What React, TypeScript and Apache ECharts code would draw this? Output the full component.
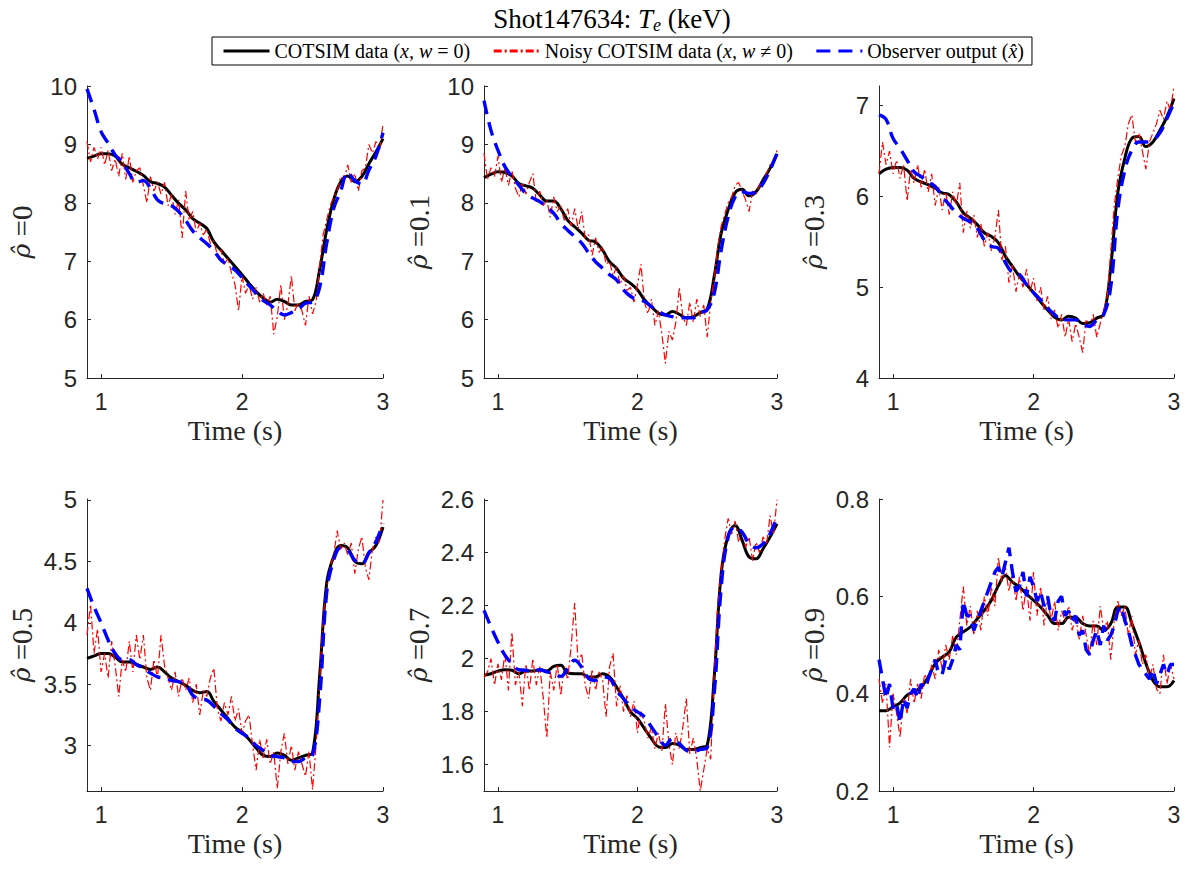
import React, { useEffect, useRef } from "react";
import * as echarts from "echarts";

// ---------- data ----------
const tCoarse = [0.9, 0.95, 1, 1.05, 1.1, 1.15, 1.2, 1.25, 1.3, 1.35, 1.4, 1.45, 1.5, 1.55, 1.6, 1.65, 1.7, 1.75, 1.8, 1.85, 1.9, 1.95, 2, 2.05, 2.1, 2.15, 2.2, 2.25, 2.3, 2.35, 2.4, 2.45, 2.5, 2.55, 2.6, 2.65, 2.7, 2.75, 2.8, 2.85, 2.9, 2.95, 3];
const tFine = [0.9, 0.925, 0.95, 0.975, 1, 1.025, 1.05, 1.075, 1.1, 1.125, 1.15, 1.175, 1.2, 1.225, 1.25, 1.275, 1.3, 1.325, 1.35, 1.375, 1.4, 1.425, 1.45, 1.475, 1.5, 1.525, 1.55, 1.575, 1.6, 1.625, 1.65, 1.675, 1.7, 1.725, 1.75, 1.775, 1.8, 1.825, 1.85, 1.875, 1.9, 1.925, 1.95, 1.975, 2, 2.025, 2.05, 2.075, 2.1, 2.125, 2.15, 2.175, 2.2, 2.225, 2.25, 2.275, 2.3, 2.325, 2.35, 2.375, 2.4, 2.425, 2.45, 2.475, 2.5, 2.525, 2.55, 2.575, 2.6, 2.625, 2.65, 2.675, 2.7, 2.725, 2.75, 2.775, 2.8, 2.825, 2.85, 2.875, 2.9, 2.925, 2.95, 2.975, 3];

const rhoLabels = ["0", "0.1", "0.3", "0.5", "0.7", "0.9"];
const xTicks = [1, 2, 3];
const yMin = [5, 5, 4, 2.63, 1.5, 0.2];
const yMax = [10, 10, 7.217, 5.008, 2.603, 0.8];
const yTicks = [
  [5, 6, 7, 8, 9, 10],
  [5, 6, 7, 8, 9, 10],
  [4, 5, 6, 7],
  [3, 3.5, 4, 4.5, 5],
  [1.6, 1.8, 2, 2.2, 2.4, 2.6],
  [0.2, 0.4, 0.6, 0.8],
];

// COTSIM data (x, w = 0) on tCoarse
const clean0 = [8.76, 8.80, 8.84, 8.84, 8.80, 8.66, 8.60, 8.54, 8.47, 8.36, 8.33, 8.27, 8.13, 7.99, 7.88, 7.73, 7.65, 7.56, 7.33, 7.19, 7.05, 6.91, 6.77, 6.62, 6.48, 6.37, 6.30, 6.35, 6.31, 6.25, 6.25, 6.31, 6.34, 6.85, 7.53, 8.05, 8.36, 8.46, 8.36, 8.45, 8.67, 8.87, 9.10];
const clean1 = [8.43, 8.49, 8.53, 8.52, 8.46, 8.33, 8.29, 8.25, 8.13, 8.03, 8.03, 7.90, 7.70, 7.59, 7.48, 7.36, 7.33, 7.19, 6.99, 6.88, 6.71, 6.62, 6.51, 6.34, 6.22, 6.11, 6.08, 6.14, 6.09, 6.03, 6.05, 6.12, 6.18, 6.74, 7.48, 7.88, 8.17, 8.23, 8.12, 8.19, 8.39, 8.59, 8.84];
const clean2 = [6.25, 6.30, 6.32, 6.32, 6.29, 6.20, 6.16, 6.13, 6.09, 6.04, 6.02, 5.94, 5.82, 5.76, 5.69, 5.60, 5.56, 5.49, 5.34, 5.23, 5.12, 5.03, 4.94, 4.84, 4.75, 4.67, 4.64, 4.68, 4.66, 4.60, 4.61, 4.66, 4.70, 5.23, 6.04, 6.42, 6.64, 6.66, 6.55, 6.60, 6.73, 6.88, 7.08];
const clean3 = [3.71, 3.73, 3.75, 3.75, 3.72, 3.68, 3.68, 3.66, 3.64, 3.62, 3.64, 3.60, 3.55, 3.52, 3.49, 3.45, 3.43, 3.44, 3.36, 3.29, 3.22, 3.15, 3.11, 3.05, 2.98, 2.92, 2.91, 2.94, 2.92, 2.88, 2.90, 2.92, 2.94, 3.56, 4.32, 4.54, 4.63, 4.61, 4.50, 4.48, 4.57, 4.63, 4.78];
const clean4 = [1.937, 1.943, 1.953, 1.958, 1.956, 1.943, 1.953, 1.953, 1.958, 1.953, 1.971, 1.975, 1.946, 1.943, 1.943, 1.931, 1.931, 1.943, 1.931, 1.893, 1.849, 1.799, 1.774, 1.736, 1.698, 1.667, 1.664, 1.679, 1.673, 1.657, 1.657, 1.664, 1.673, 1.931, 2.321, 2.465, 2.503, 2.447, 2.384, 2.377, 2.415, 2.459, 2.509];
const clean5 = [0.365, 0.365, 0.373, 0.381, 0.397, 0.404, 0.414, 0.434, 0.462, 0.475, 0.486, 0.516, 0.527, 0.537, 0.554, 0.571, 0.592, 0.622, 0.643, 0.629, 0.619, 0.605, 0.592, 0.578, 0.561, 0.544, 0.544, 0.557, 0.557, 0.544, 0.539, 0.539, 0.530, 0.544, 0.578, 0.578, 0.544, 0.506, 0.462, 0.427, 0.414, 0.414, 0.427];

// Noisy COTSIM data (x, w != 0) on tFine
const noisy0 = [9.05, 8.70, 8.95, 8.75, 8.95, 8.65, 8.90, 8.55, 8.75, 8.45, 8.85, 8.40, 8.80, 8.35, 8.55, 8.60, 8.30, 8.00, 8.45, 8.20, 8.35, 8.15, 8.35, 7.95, 8.15, 7.80, 8.05, 7.40, 8.20, 7.70, 7.85, 7.50, 7.65, 7.45, 7.55, 7.30, 7.35, 7.10, 7.20, 6.95, 7.05, 6.80, 6.60, 6.15, 6.75, 6.45, 6.60, 6.35, 6.55, 6.30, 6.45, 6.25, 6.40, 5.75, 6.05, 6.60, 6.00, 6.25, 6.75, 6.15, 6.30, 6.15, 5.90, 6.40, 6.10, 6.30, 6.90, 7.45, 7.70, 7.95, 8.10, 8.20, 8.45, 8.40, 8.65, 8.35, 8.50, 8.20, 8.55, 8.60, 9.00, 8.85, 9.05, 8.90, 9.35];
const noisy1 = [8.85, 8.40, 8.60, 8.45, 8.80, 8.35, 8.60, 8.30, 8.55, 8.25, 8.10, 8.35, 8.15, 8.35, 8.50, 8.00, 8.20, 7.95, 8.05, 7.75, 8.10, 7.85, 7.95, 7.70, 7.90, 7.60, 7.90, 7.55, 7.85, 7.40, 7.45, 7.10, 7.40, 7.15, 7.25, 6.95, 7.00, 6.75, 6.90, 6.60, 6.75, 6.50, 6.55, 6.30, 6.60, 6.95, 6.30, 6.10, 6.35, 5.90, 6.15, 5.75, 5.25, 5.80, 5.65, 5.95, 6.55, 6.05, 5.90, 6.30, 5.95, 6.35, 6.05, 6.25, 5.70, 6.30, 6.70, 7.25, 7.60, 7.80, 8.00, 8.10, 8.30, 8.35, 8.20, 8.05, 7.85, 8.20, 8.15, 8.30, 8.35, 8.50, 8.65, 8.70, 8.90];
const noisy2 = [6.25, 6.60, 6.35, 6.50, 6.25, 6.40, 6.20, 6.35, 5.95, 6.30, 6.15, 6.35, 6.10, 6.30, 6.05, 6.25, 5.90, 6.10, 5.85, 6.05, 5.80, 6.05, 5.90, 6.15, 5.60, 5.85, 5.65, 5.80, 5.55, 5.70, 5.45, 5.60, 5.40, 5.55, 5.85, 5.30, 5.45, 5.05, 5.25, 4.95, 5.15, 5.00, 5.20, 4.95, 5.10, 4.85, 5.00, 4.75, 4.90, 4.65, 4.75, 4.55, 4.70, 4.45, 4.65, 4.40, 4.60, 4.45, 4.28, 4.65, 4.55, 4.70, 4.45, 4.60, 4.75, 4.90, 5.40, 5.90, 6.20, 6.45, 6.55, 6.80, 6.90, 6.60, 6.70, 6.50, 6.30, 6.60, 6.70, 6.80, 6.95, 6.85, 7.05, 6.95, 7.22];
const noisy3 = [3.90, 4.15, 3.75, 3.95, 3.60, 3.75, 3.55, 3.85, 3.65, 3.40, 3.70, 3.60, 3.85, 3.60, 3.90, 3.70, 3.90, 3.55, 3.45, 3.70, 3.55, 3.90, 3.65, 3.55, 3.45, 3.60, 3.40, 3.55, 3.45, 3.55, 3.35, 3.50, 3.25, 3.45, 3.40, 3.55, 3.63, 3.30, 3.20, 3.35, 3.25, 3.40, 3.20, 3.30, 3.10, 3.20, 3.25, 3.00, 2.80, 3.05, 2.90, 3.05, 2.85, 2.95, 2.65, 2.95, 3.10, 2.85, 3.00, 2.80, 2.95, 2.85, 2.75, 2.95, 2.64, 3.00, 3.50, 4.05, 4.30, 4.45, 4.55, 4.75, 4.60, 4.65, 4.55, 4.65, 4.40, 4.60, 4.70, 4.45, 4.35, 4.60, 4.70, 4.65, 5.00];
const noisy4 = [1.93, 1.95, 2.00, 1.90, 1.98, 1.92, 2.02, 1.88, 2.10, 1.90, 1.95, 1.82, 1.98, 1.88, 2.00, 1.90, 1.97, 1.85, 1.70, 1.95, 1.88, 1.98, 1.86, 1.97, 1.92, 2.05, 2.21, 1.98, 2.02, 1.90, 1.85, 1.96, 1.88, 1.95, 1.92, 1.78, 1.97, 2.02, 1.82, 1.90, 1.80, 1.86, 1.78, 1.84, 1.72, 1.80, 1.76, 1.70, 1.74, 1.66, 1.72, 1.65, 1.83, 1.68, 1.60, 1.72, 1.66, 1.74, 1.85, 1.64, 1.70, 1.62, 1.50, 1.58, 1.66, 1.62, 1.95, 2.20, 2.33, 2.45, 2.53, 2.47, 2.52, 2.44, 2.48, 2.42, 2.46, 2.37, 2.44, 2.40, 2.46, 2.43, 2.54, 2.47, 2.60];
const noisy5 = [0.43, 0.38, 0.42, 0.29, 0.40, 0.36, 0.31, 0.39, 0.36, 0.43, 0.38, 0.42, 0.39, 0.44, 0.42, 0.46, 0.43, 0.49, 0.45, 0.50, 0.47, 0.52, 0.48, 0.55, 0.62, 0.54, 0.58, 0.52, 0.57, 0.53, 0.60, 0.56, 0.62, 0.58, 0.68, 0.63, 0.66, 0.61, 0.65, 0.59, 0.64, 0.57, 0.62, 0.55, 0.65, 0.56, 0.62, 0.54, 0.60, 0.55, 0.59, 0.53, 0.57, 0.55, 0.58, 0.53, 0.56, 0.51, 0.56, 0.52, 0.48, 0.55, 0.50, 0.58, 0.53, 0.55, 0.47, 0.55, 0.59, 0.56, 0.58, 0.52, 0.56, 0.48, 0.51, 0.46, 0.48, 0.43, 0.46, 0.41, 0.40, 0.48, 0.42, 0.46, 0.43];

// Observer output (x hat): panels 0-4 on tCoarse, panel 5 on tFine
const obs0 = [9.95, 9.60, 9.22, 9.02, 8.82, 8.70, 8.50, 8.35, 8.38, 8.25, 8.05, 7.98, 7.95, 7.85, 7.70, 7.52, 7.40, 7.30, 7.18, 7.02, 6.93, 6.85, 6.72, 6.58, 6.45, 6.33, 6.25, 6.15, 6.08, 6.12, 6.18, 6.28, 6.30, 6.55, 7.30, 7.90, 8.20, 8.52, 8.38, 8.32, 8.56, 8.80, 9.20];
const obs1 = [9.75, 9.24, 8.90, 8.62, 8.45, 8.30, 8.16, 8.08, 8.02, 7.93, 7.82, 7.65, 7.53, 7.42, 7.31, 7.14, 6.99, 6.88, 6.77, 6.68, 6.51, 6.40, 6.34, 6.31, 6.22, 6.14, 6.08, 6.05, 6.03, 6.03, 6.03, 6.11, 6.17, 6.45, 7.19, 7.76, 8.10, 8.19, 8.16, 8.19, 8.33, 8.56, 8.84];
const obs2 = [6.90, 6.85, 6.64, 6.53, 6.40, 6.27, 6.22, 6.16, 6.11, 6.00, 5.91, 5.82, 5.76, 5.72, 5.65, 5.52, 5.45, 5.43, 5.27, 5.16, 5.14, 5.03, 4.94, 4.86, 4.77, 4.70, 4.64, 4.64, 4.64, 4.59, 4.57, 4.64, 4.70, 5.01, 5.85, 6.29, 6.51, 6.60, 6.60, 6.62, 6.70, 6.86, 7.03];
const obs3 = [4.28, 4.13, 4.00, 3.86, 3.75, 3.70, 3.70, 3.66, 3.63, 3.59, 3.56, 3.55, 3.53, 3.52, 3.50, 3.41, 3.38, 3.37, 3.32, 3.26, 3.21, 3.14, 3.10, 3.06, 3.00, 2.96, 2.92, 2.91, 2.90, 2.87, 2.87, 2.90, 2.92, 3.37, 4.24, 4.51, 4.61, 4.59, 4.51, 4.48, 4.57, 4.66, 4.81];
const obs4 = [2.182, 2.120, 2.063, 2.013, 1.981, 1.958, 1.956, 1.950, 1.958, 1.950, 1.943, 1.933, 1.962, 1.994, 1.968, 1.925, 1.918, 1.931, 1.925, 1.880, 1.849, 1.818, 1.799, 1.780, 1.742, 1.704, 1.673, 1.698, 1.679, 1.654, 1.648, 1.657, 1.664, 1.868, 2.270, 2.459, 2.497, 2.478, 2.434, 2.419, 2.434, 2.472, 2.535];
const obs5 = [0.47, 0.43, 0.39, 0.42, 0.37, 0.38, 0.34, 0.39, 0.37, 0.40, 0.41, 0.39, 0.42, 0.41, 0.43, 0.45, 0.47, 0.44, 0.44, 0.47, 0.45, 0.47, 0.50, 0.49, 0.59, 0.56, 0.56, 0.53, 0.55, 0.57, 0.59, 0.61, 0.63, 0.65, 0.66, 0.64, 0.67, 0.70, 0.65, 0.61, 0.62, 0.65, 0.60, 0.64, 0.62, 0.59, 0.61, 0.58, 0.60, 0.56, 0.55, 0.59, 0.60, 0.56, 0.57, 0.55, 0.56, 0.52, 0.53, 0.49, 0.48, 0.51, 0.53, 0.50, 0.54, 0.51, 0.52, 0.54, 0.57, 0.58, 0.55, 0.53, 0.50, 0.48, 0.46, 0.45, 0.44, 0.43, 0.45, 0.42, 0.44, 0.46, 0.44, 0.46, 0.46];

const cleanSets = [clean0, clean1, clean2, clean3, clean4, clean5];
const noisySets = [noisy0, noisy1, noisy2, noisy3, noisy4, noisy5];
const obsSets = [obs0, obs1, obs2, obs3, obs4, obs5];
const obsTimes = [tCoarse, tCoarse, tCoarse, tCoarse, tCoarse, tFine];

const NAME_CLEAN = "COTSIM data (x, w = 0)";
const NAME_NOISY = "Noisy COTSIM data (x, w ≠ 0)";
const NAME_OBS = "Observer output (x̂)";

// ---------- layout ----------
const gridBoxes = [
  { left: 87, top: 86, width: 296, height: 292 },
  { left: 484, top: 86, width: 293, height: 292 },
  { left: 879, top: 86, width: 295, height: 292 },
  { left: 87, top: 499, width: 296, height: 292 },
  { left: 484, top: 499, width: 293, height: 292 },
  { left: 879, top: 499, width: 295, height: 292 },
];

const SERIF = "'Liberation Serif', 'Times New Roman', serif";
const SANS = "'Liberation Sans', Arial, Helvetica, sans-serif";
const AX = "#262626";

const zip = (t: number[], v: number[]) => t.map((x, i) => [x, v[i]]);

function buildOption() {
  const grid = gridBoxes.map((g) => ({ ...g, containLabel: false }));
  const xAxis = gridBoxes.map((_, i) => ({
    type: "value",
    gridIndex: i,
    min: 0.9,
    max: 3,
    axisLine: { show: true, onZero: false, lineStyle: { color: AX, width: 1 } },
    axisTick: { show: true, inside: true, length: 4, customValues: xTicks, lineStyle: { color: AX } },
    axisLabel: { customValues: xTicks, color: AX, fontSize: 23, fontFamily: SANS, margin: 12 },
    splitLine: { show: false },
    name: "Time (s)",
    nameLocation: "middle",
    nameGap: 38,
    nameTextStyle: { color: AX, fontSize: 28, fontFamily: SERIF },
  }));
  const yAxis = gridBoxes.map((_, i) => ({
    type: "value",
    gridIndex: i,
    min: yMin[i],
    max: yMax[i],
    axisLine: { show: true, onZero: false, lineStyle: { color: AX, width: 1 } },
    axisTick: { show: true, inside: true, length: 4, customValues: yTicks[i], lineStyle: { color: AX } },
    axisLabel: { customValues: yTicks[i], color: AX, fontSize: 24, fontFamily: SANS, margin: 10 },
    splitLine: { show: false },
    name: "{r|ρ̂}{n| =" + rhoLabels[i] + "}",
    nameLocation: "middle",
    nameRotate: 90,
    nameGap: 51,
    nameTextStyle: {
      color: AX,
      fontFamily: SERIF,
      fontSize: 28,
      rich: {
        r: { fontFamily: "'DejaVu Serif', serif", fontStyle: "italic", fontSize: 25, color: AX },
        n: { fontFamily: SERIF, fontSize: 29, color: AX },
      },
    },
  }));

  const series: any[] = [];
  for (let i = 0; i < 6; i++) {
    series.push({
      name: NAME_CLEAN,
      type: "line",
      xAxisIndex: i,
      yAxisIndex: i,
      data: zip(tCoarse, cleanSets[i]),
      showSymbol: false,
      symbol: "none",
      smooth: 0.4,
      lineStyle: { color: "#000000", width: 3 },
      itemStyle: { color: "#000000" },
      z: 2,
    });
    series.push({
      name: NAME_NOISY,
      type: "line",
      xAxisIndex: i,
      yAxisIndex: i,
      data: zip(tFine, noisySets[i]),
      showSymbol: false,
      symbol: "none",
      lineStyle: { color: "#ff0000", width: 1.2, type: [8, 3, 2, 3] },
      itemStyle: { color: "#ff0000" },
      z: 3,
    });
    series.push({
      name: NAME_OBS,
      type: "line",
      xAxisIndex: i,
      yAxisIndex: i,
      data: zip(obsTimes[i], obsSets[i]),
      showSymbol: false,
      symbol: "none",
      smooth: i === 5 ? false : 0.4,
      lineStyle: { color: "#0000ff", width: 3.4, type: [14, 8] },
      itemStyle: { color: "#0000ff" },
      z: 4,
    });
  }

  const legendRich = {
    n: { fontFamily: SERIF, fontSize: 20, color: "#000" },
    i: { fontFamily: SERIF, fontSize: 20, fontStyle: "italic", color: "#000" },
  };

  return {
    animation: false,
    backgroundColor: "#ffffff",
    title: {
      text: "{a|Shot147634: }{i|T}{s|e}{a| (keV)}",
      left: 607,
      top: 0,
      textAlign: "center",
      textStyle: {
        fontWeight: "normal",
        rich: {
          a: { fontFamily: SERIF, fontSize: 27, fontWeight: "normal", color: "#000", verticalAlign: "top", lineHeight: 32 },
          i: { fontFamily: SERIF, fontSize: 27, fontWeight: "normal", fontStyle: "italic", color: "#000", verticalAlign: "top", lineHeight: 32 },
          s: { fontFamily: SERIF, fontSize: 18, fontWeight: "normal", fontStyle: "italic", color: "#000", verticalAlign: "top", lineHeight: 32, padding: [11, 0, 0, 0] },
        },
      },
    },
    legend: {
      show: true,
      left: 212,
      top: 37,
      orient: "horizontal",
      data: [NAME_CLEAN, NAME_NOISY, NAME_OBS],
      borderColor: "#000",
      borderWidth: 1,
      padding: [4, 8, 4, 10],
      itemWidth: 46,
      itemHeight: 20,
      itemGap: 22,
      selectedMode: false,
      itemStyle: { opacity: 0 },
      lineStyle: { width: 3 },
      formatter: (name: string) => {
        if (name === NAME_CLEAN) return "{n|COTSIM data (}{i|x, w}{n| = 0)}";
        if (name === NAME_NOISY) return "{n|Noisy COTSIM data (}{i|x, w}{n| ≠ 0)}";
        return "{n|Observer output (}{i|x̂}{n|)}";
      },
      textStyle: { rich: legendRich, fontFamily: SERIF, fontSize: 20 },
    },
    grid,
    xAxis,
    yAxis,
    series,
  };
}

export default function App() {
  const ref = useRef<HTMLDivElement>(null);
  useEffect(() => {
    if (!ref.current) return;
    const chart = echarts.init(ref.current, undefined, { renderer: "svg" });
    chart.setOption(buildOption() as any);
    return () => chart.dispose();
  }, []);
  return (
    <div
      ref={ref}
      style={{ position: "absolute", left: 0, top: 0, width: 1189, height: 869, background: "#fff" }}
    />
  );
}
